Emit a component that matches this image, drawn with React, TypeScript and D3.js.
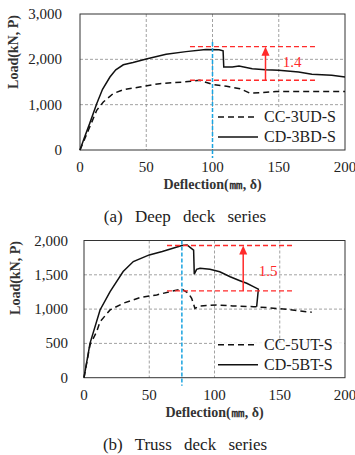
import * as d3 from "d3";

// deep deck series (a)
const deepDashDefl = [0, 6.3, 12.6, 17.6, 25, 32.7, 45, 60, 78, 90.5, 100.6, 110.7, 120.8, 128, 136, 148, 200];
const deepDashLoad = [0, 434, 875, 1059, 1243, 1331, 1390, 1463, 1500, 1537, 1441, 1404, 1353, 1257, 1265, 1290, 1290];
const deepSolidDefl = [0, 3, 7, 12.6, 17, 22.6, 27, 32.7, 40, 50, 65, 80, 95, 105, 108, 108.5, 115, 120, 130, 140, 150, 165, 175, 190, 200];
const deepSolidLoad = [0, 250, 560, 1022, 1340, 1610, 1770, 1880, 1930, 2007, 2110, 2170, 2215, 2213, 2190, 1830, 1830, 1853, 1794, 1772, 1757, 1720, 1670, 1647, 1610];

// truss deck series (b)
const trussDashDefl = [0, 4.6, 9.7, 12.3, 20, 30, 43, 55.7, 66, 75, 80, 82.5, 85, 89, 101.6, 114, 130, 140, 152.7, 165.5, 174.5];
const trussDashLoad = [0, 477, 671, 817, 988, 1085, 1168, 1207, 1255, 1294, 1230, 1157, 1011, 1046, 1061, 1046, 1036, 1022, 1002, 973, 954];
const trussSolidDefl = [0, 4.6, 12.3, 20, 30, 37.8, 50, 60, 70, 75, 79, 82, 84, 84.5, 86.3, 88.9, 96.5, 104, 112, 119.5, 124.7, 129.8, 133.6, 132.3];
const trussSolidLoad = [0, 501, 988, 1255, 1547, 1693, 1790, 1839, 1898, 1927, 1934, 1890, 1860, 1510, 1580, 1595, 1580, 1545, 1472, 1414, 1376, 1328, 1290, 1035];

const xTicks = [0, 50, 100, 150, 200];
const deepYTicks = [0, 1000, 2000, 3000];
const trussYTicks = [0, 500, 1000, 1500, 2000];

const serif = "'Liberation Serif', 'Times New Roman', serif";
const zip = (a: number[], b: number[]) => a.map((v, i) => [v, b[i]] as [number, number]);

function Panel(props: any) {
  const { left, right, top, bottom, yMax, yTicks, dash, solid, names, ratio, peak, blueX, caption, legendTop, labelLeft } = props;
  const x = d3.scaleLinear().domain([0, 200]).range([left, right]);
  const y = d3.scaleLinear().domain([0, yMax]).range([bottom, top]);
  const line = d3.line<[number, number]>().x(d => x(d[0])).y(d => y(d[1]));
  const fmt = d3.format(",");
  const grid = "#8a8a8a";
  const red = "#ff2a2a";
  const [rx1, rx2, hi, lo, ax, lx, ly] = peak;
  return (
    <g fontFamily={serif}>
      {/* grid */}
      {xTicks.slice(1, -1).map(t => (
        <line key={"gx" + t} x1={x(t)} x2={x(t)} y1={top} y2={bottom} stroke={grid} strokeWidth={0.8} strokeDasharray="3,2" />
      ))}
      {yTicks.slice(1, -1).map((t: number) => (
        <line key={"gy" + t} x1={left} x2={right} y1={y(t)} y2={y(t)} stroke={grid} strokeWidth={0.8} strokeDasharray="3,2" />
      ))}
      {/* legend background */}
      <rect x={x(100) + 0.5} y={y(legendTop)} width={right - x(100) - 1} height={bottom - y(legendTop) - 0.5} fill="white" />
      <rect x={left} y={top} width={right - left} height={bottom - top} fill="none" stroke="#333" strokeWidth={1} />
      {/* tick labels */}
      {xTicks.map(t => (
        <text key={"tx" + t} x={x(t)} y={bottom + 22} textAnchor="middle" fontSize={15} fill="#222">{t}</text>
      ))}
      {yTicks.map((t: number) => (
        <text key={"ty" + t} x={labelLeft} y={y(t) + 5} textAnchor="end" fontSize={15} fill="#222">{fmt(t)}</text>
      ))}
      {/* curves */}
      <path d={line(zip(dash[0], dash[1])) || ""} fill="none" stroke="#111" strokeWidth={1.5} strokeDasharray="6,4" />
      <path d={line(zip(solid[0], solid[1])) || ""} fill="none" stroke="#111" strokeWidth={1.5} />
      {/* ratio markers */}
      <line x1={x(rx1)} x2={x(rx2)} y1={y(hi)} y2={y(hi)} stroke={red} strokeWidth={1.4} strokeDasharray="5,3" />
      <line x1={x(rx1)} x2={x(rx2)} y1={y(lo)} y2={y(lo)} stroke={red} strokeWidth={1.4} strokeDasharray="5,3" />
      <line x1={x(ax)} x2={x(ax)} y1={y(lo)} y2={y(hi) + 6} stroke={red} strokeWidth={1.5} />
      <path d={`M${x(ax)},${y(hi)} l-4,9 l8,0 z`} fill={red} />
      <text x={x(lx)} y={y(ly) + 5} fontSize={15} fill={red} textAnchor="middle">{ratio}</text>
      <line x1={x(blueX)} x2={x(blueX)} y1={top + props.blueTop} y2={bottom + 8} stroke="#1aa3e0" strokeWidth={1.5} strokeDasharray="4,2" />
      {/* legend */}
      <line x1={right - 127} x2={right - 87} y1={bottom - 33} y2={bottom - 33} stroke="#111" strokeWidth={1.5} strokeDasharray="6,4" />
      <text x={right - 81} y={bottom - 28} fontSize={16} fill="#222">{names[0]}</text>
      <line x1={right - 127} x2={right - 87} y1={bottom - 13} y2={bottom - 13} stroke="#111" strokeWidth={1.5} />
      <text x={right - 81} y={bottom - 8} fontSize={16} fill="#222">{names[1]}</text>
      {/* axis titles */}
      <text x={(left + right) / 2} y={bottom + 39} textAnchor="middle" fontSize={14} fontWeight="bold" fill="#333">Deflection(㎜, δ)</text>
      <text transform={`translate(${props.yTitleX},${props.yTitleY}) rotate(-90)`} textAnchor="middle" fontSize={14} fontWeight="bold" fill="#333">Load(kN, P)</text>
      <text x={185} y={bottom + 72} textAnchor="middle" fontSize={17} wordSpacing={8} fill="#222">{caption}</text>
    </g>
  );
}

export default function App() {
  return (
    <svg width={355} height={455} style={{ position: "absolute", left: 0, top: 0, background: "white" }}>
      <rect width={355} height={455} fill="white" />
      <Panel left={80} right={345} top={14} bottom={150} yMax={3000} yTicks={deepYTicks}
        dash={[deepDashDefl, deepDashLoad]} solid={[deepSolidDefl, deepSolidLoad]}
        names={["CC-3UD-S", "CD-3BD-S"]} ratio="1.4" peak={[83, 179, 2280, 1537, 140, 160, 1948]}
        blueX={100} blueTop={28} caption="(a) Deep deck series" legendTop={900} labelLeft={62}
        yTitleX={18} yTitleY={52} />
      <Panel left={84} right={345} top={240.5} bottom={377.7} yMax={2000} yTicks={trussYTicks}
        dash={[trussDashDefl, trussDashLoad]} solid={[trussSolidDefl, trussSolidLoad]}
        names={["CC-5UT-S", "CD-5BT-S"]} ratio="1.5" peak={[63.6, 161.7, 1927, 1265, 122, 141, 1555]}
        blueX={75} blueTop={0} caption="(b) Truss deck series" legendTop={505} labelLeft={68}
        yTitleX={20} yTitleY={278} />
    </svg>
  );
}
